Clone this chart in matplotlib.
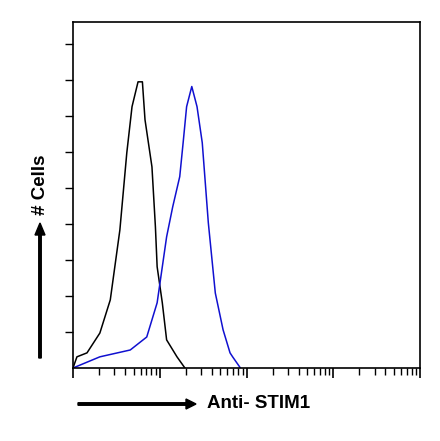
import matplotlib
matplotlib.use("Agg")
import matplotlib.pyplot as plt
import numpy as np

plt.rcParams['font.family'] = ['Liberation Sans', 'DejaVu Sans']

ctrl_x = [1, 1.11, 1.45, 2.04, 2.69, 3.47, 4.17, 4.79, 5.62, 6.31, 6.76, 8.13, 8.91, 9.33, 10.7, 12.0, 15.8, 19.5]
ctrl_y = [0, 0.31, 0.42, 0.97, 1.89, 3.83, 5.97, 7.25, 7.94, 7.94, 6.89, 5.58, 3.92, 2.81, 1.81, 0.78, 0.31, 0]
stim_x = [1, 2.04, 4.57, 7.08, 9.33, 12.0, 14.1, 17.0, 18.6, 20.4, 23.4, 26.9, 30.9, 36.3, 43.7, 53.7, 64.6, 69.2, 85.1]
stim_y = [0, 0.31, 0.50, 0.86, 1.81, 3.64, 4.47, 5.31, 6.25, 7.25, 7.81, 7.25, 6.25, 4.03, 2.08, 1.06, 0.42, 0.31, 0]

W, H = 440, 441
fig = plt.figure(figsize=(W/100, H/100), dpi=100)
ax = fig.add_axes([73/W, 1-368/H, (420-73)/W, (368-22)/H])
ax.plot(ctrl_x, ctrl_y, color='black', lw=1.1)
ax.plot(stim_x, stim_y, color='#1010d0', lw=1.1)
ax.set_xscale('log')
ax.set_xlim(1, 1e4)
ax.set_ylim(0, 9.6)
ax.set_yticks(np.arange(1, 10))
ax.set_yticklabels([])
ax.xaxis.set_major_locator(matplotlib.ticker.LogLocator(base=10))
ax.xaxis.set_minor_locator(matplotlib.ticker.LogLocator(base=10, subs=np.arange(2, 10)))
ax.set_xticklabels([], minor=True)
ax.set_xticklabels([])
ax.tick_params(axis='x', which='major', length=7, direction='out', width=1.2)
ax.tick_params(axis='x', which='minor', length=5, direction='out', width=1)
ax.tick_params(axis='y', length=6, direction='out', width=1)
for s in ax.spines.values():
    s.set_linewidth(1.2)

fig.patches.append(matplotlib.patches.FancyArrow(78/W, 1-404/H, 118/W, 0, width=2.5/H, head_width=10/H, head_length=10/W,
                                                 length_includes_head=True, color='black', transform=fig.transFigure))
fig.text(207/W, 1-404/H, 'Anti- STIM1', fontsize=13.5, fontweight='bold', va='center', ha='left')
fig.patches.append(matplotlib.patches.FancyArrow(40/W, 1-358/H, 0, 135/H, width=2.5/W, head_width=10/W, head_length=12/H,
                                                 length_includes_head=True, color='black', transform=fig.transFigure))
fig.text(40/W, 1-185/H, '# Cells', fontsize=13.5, fontweight='bold', rotation=90, va='center', ha='center')
fig.savefig('out.png', dpi=100)
